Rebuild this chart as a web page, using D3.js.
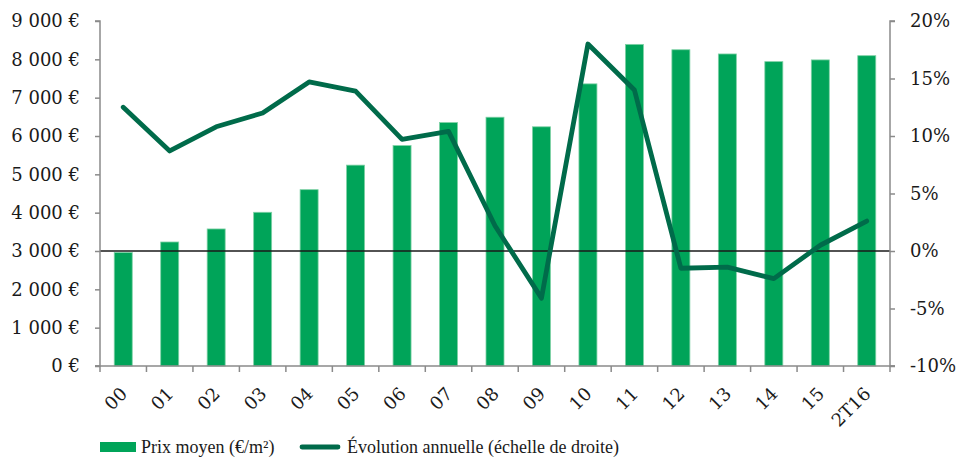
<!DOCTYPE html>
<html>
<head>
<meta charset="utf-8">
<script src="https://cdn.jsdelivr.net/npm/d3@7/dist/d3.min.js"></script>
<style>
  html, body { margin: 0; padding: 0; background: #fff; }
  svg { display: block; }
  text { fill: #1a1a1a; }
  .num { font-family: "DejaVu Serif", "Liberation Serif", serif; font-size: 18px; }
  .leg { font-family: "Liberation Serif", "DejaVu Serif", serif; font-size: 18px; }
</style>
</head>
<body>
<svg id="chart" width="962" height="460"></svg>
<script>
// Average price per m² and year-on-year change
const categories = ["00","01","02","03","04","05","06","07","08","09","10","11","12","13","14","15","2T16"];
const prixMoyen = [2960, 3235, 3575, 4010, 4600, 5240, 5750, 6350, 6490, 6240, 7360, 8390, 8250, 8140, 7940, 7985, 8095];
const evolution = [12.5, 8.7, 10.8, 12.0, 14.7, 13.9, 9.7, 10.4, 2.2, -4.1, 18.0, 14.0, -1.5, -1.4, -2.4, 0.5, 2.6];
const leftTicks = [0, 1000, 2000, 3000, 4000, 5000, 6000, 7000, 8000, 9000];
const rightTicks = [-10, -5, 0, 5, 10, 15, 20];
const legendLabels = ["Prix moyen (€/m²)", "Évolution annuelle (échelle de droite)"];

const barColor = "#00a459";
const lineColor = "#006b4a";
const axisColor = "#8a8a8a";

const svg = d3.select("#chart");
const margin = { left: 100, right: 72, top: 21, bottom: 94 };
const W = 962, H = 460;
const x0 = margin.left, x1 = W - margin.right;
const y0 = H - margin.bottom, y1 = margin.top;

const xBand = d3.scaleBand().domain(categories).range([x0, x1]).padding(0);
const cx = c => xBand(c) + xBand.bandwidth() / 2;
const yL = d3.scaleLinear().domain([0, 9000]).range([y0, y1]);
const yR = d3.scaleLinear().domain([-10, 20]).range([y0, y1]);

const fmtEuro = v => d3.format(",")(v).replace(/,/g, "\u00a0") + "\u00a0€";

// soft shadow under the zero line
const defs = svg.append("defs");
const f = defs.append("filter").attr("id", "soft").attr("x", "-5%").attr("y", "-300%").attr("width", "110%").attr("height", "700%");
f.append("feGaussianBlur").attr("stdDeviation", 3);

// bars
const bw = 18;
svg.append("g").selectAll("rect").data(prixMoyen).join("rect")
  .attr("x", (d, i) => cx(categories[i]) - bw / 2)
  .attr("y", d => yL(d))
  .attr("width", bw)
  .attr("height", d => y0 - yL(d))
  .attr("fill", barColor)
  .attr("stroke", "#7fd1a6")
  .attr("stroke-width", 0.8);

// zero line of the right axis
svg.append("line")
  .attr("x1", x0).attr("x2", x1)
  .attr("y1", yR(0) + 5).attr("y2", yR(0) + 5)
  .attr("stroke", "#000").attr("stroke-opacity", 0.16).attr("stroke-width", 5)
  .attr("filter", "url(#soft)");
svg.append("line")
  .attr("x1", x0).attr("x2", x1)
  .attr("y1", yR(0)).attr("y2", yR(0))
  .attr("stroke", "#1a1a1a").attr("stroke-width", 1.3);

// annual change line
const line = d3.line()
  .x((d, i) => cx(categories[i]))
  .y(d => yR(d));
svg.append("path")
  .datum(evolution)
  .attr("d", line)
  .attr("fill", "none")
  .attr("stroke", lineColor)
  .attr("stroke-width", 4.8)
  .attr("stroke-linejoin", "round")
  .attr("stroke-linecap", "round");

// left axis
const gL = svg.append("g").attr("transform", `translate(${x0},0)`)
  .call(d3.axisLeft(yL).tickValues(leftTicks).tickFormat(fmtEuro).tickSize(5).tickPadding(15));

// right axis
const gR = svg.append("g").attr("transform", `translate(${x1},0)`)
  .call(d3.axisRight(yR).tickValues(rightTicks).tickFormat(d => d + "%").tickSize(5).tickPadding(15));

[gL, gR].forEach(g => {
  g.attr("font-family", null).attr("font-size", null);
  g.select(".domain").attr("stroke", axisColor).attr("stroke-width", 1.5);
  g.selectAll(".tick line").attr("stroke", axisColor).attr("stroke-width", 1.5);
  g.selectAll("text").attr("class", "num").attr("fill", "#1a1a1a");
});
gL.select(".domain").attr("d", `M-5,${y0}H0V${y1}H-5`);
gR.select(".domain").attr("d", `M5,${y0}H0V${y1}H5`);

// bottom axis: ticks on category boundaries, rotated labels
const boundaries = categories.map(c => xBand(c)).concat([x1]);
const gB = svg.append("g");
gB.append("line").attr("x1", x0 - 5).attr("x2", x1 + 5).attr("y1", y0).attr("y2", y0)
  .attr("stroke", axisColor).attr("stroke-width", 1.5);
gB.selectAll("line.t").data(boundaries).join("line").attr("class", "t")
  .attr("x1", d => d).attr("x2", d => d).attr("y1", y0).attr("y2", y0 + 6)
  .attr("stroke", axisColor).attr("stroke-width", 1.5);
gB.selectAll("text").data(categories).join("text")
  .attr("class", "num")
  .attr("transform", d => `translate(${cx(d) + 5},${y0 + 29}) rotate(-45)`)
  .attr("text-anchor", "end")
  .text(d => d);

// legend
const lg = svg.append("g").attr("transform", `translate(0,447)`);
lg.append("rect").attr("x", 100).attr("y", -5).attr("width", 36).attr("height", 10).attr("fill", barColor);
lg.append("text").attr("class", "leg").attr("x", 141).attr("y", 0).attr("dy", "0.35em").text(legendLabels[0]);
lg.append("line").attr("x1", 302).attr("x2", 338).attr("y1", 0).attr("y2", 0)
  .attr("stroke", lineColor).attr("stroke-width", 4.8).attr("stroke-linecap", "round");
lg.append("text").attr("class", "leg").attr("x", 347).attr("y", 0).attr("dy", "0.35em").text(legendLabels[1]);
</script>
</body>
</html>
